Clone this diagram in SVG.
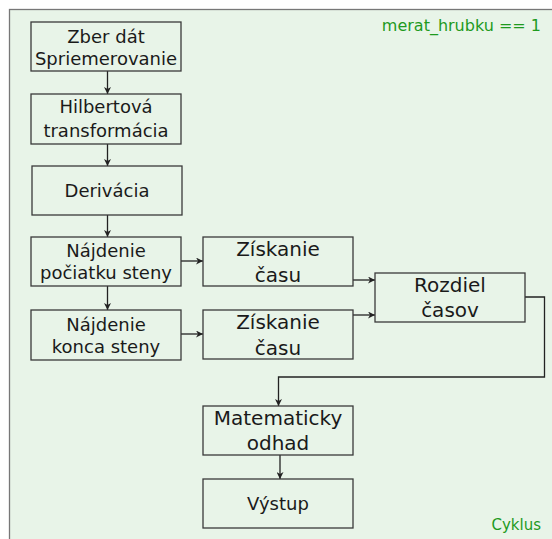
<svg xmlns="http://www.w3.org/2000/svg" width="552" height="539" viewBox="0 0 552 539">
<style>
.box{fill:#e8f4e8;stroke:#3a3a3a;stroke-width:1.3}
.t{font-family:"DejaVu Sans",sans-serif;font-size:18px;fill:#1a1a1a;text-anchor:middle}
.tl{font-size:20px}
.g{font-family:"DejaVu Sans",sans-serif;fill:#1e9a1e}
.c{fill:none;stroke:#222;stroke-width:1.3;marker-end:url(#ah)}
</style>
<defs>
<marker id="ah" viewBox="0 0 10 10" refX="10" refY="5" markerWidth="8" markerHeight="7" markerUnits="userSpaceOnUse" orient="auto">
<path d="M0,0 L10,5 L0,10 L3,5 Z" fill="#222"/>
</marker>
</defs>
<rect x="0" y="0" width="552" height="539" fill="#ffffff"/>
<rect x="9.5" y="9.5" width="600" height="600" fill="#e8f4e8" stroke="#777" stroke-width="1.3"/>
<text class="g" x="541" y="31" font-size="16" text-anchor="end">merat_hrubku == 1</text>
<text class="g" x="541" y="530" font-size="15" text-anchor="end">Cyklus</text>
<g id="connectors">
<path class="c" d="M107.5,71 V94"/>
<path class="c" d="M107.5,144 V166"/>
<path class="c" d="M107.5,215 V237"/>
<path class="c" d="M107.5,286 V310"/>
<path class="c" d="M181,261 H203"/>
<path class="c" d="M181,334 H203"/>
<path class="c" d="M353,280 H375"/>
<path class="c" d="M353,315 H375"/>
<path class="c" d="M525,297 H544.5 V377 H278.5 V406"/>
<path class="c" d="M280,455 V479"/>
</g>
<g id="n1"><rect class="box" x="31" y="22" width="150" height="49"/><text class="t" x="106" y="43">Zber dát</text><text class="t" x="106" y="65">Spriemerovanie</text></g>
<g id="n2"><rect class="box" x="31" y="94" width="150" height="50"/><text class="t" x="106" y="113">Hilbertová</text><text class="t" x="106" y="136.5">transformácia</text></g>
<g id="n3"><rect class="box" x="32" y="166" width="150" height="49"/><text class="t" x="107" y="196.5">Derivácia</text></g>
<g id="n4"><rect class="box" x="31" y="237" width="150" height="49"/><text class="t" x="106" y="256.5">Nájdenie</text><text class="t" x="106" y="279">počiatku steny</text></g>
<g id="n5"><rect class="box" x="31" y="310" width="150" height="50"/><text class="t" x="106" y="331">Nájdenie</text><text class="t" x="106" y="353">konca steny</text></g>
<g id="n6"><rect class="box" x="203" y="237" width="150" height="49"/><text class="t tl" x="278" y="256">Získanie</text><text class="t tl" x="278" y="281.5">času</text></g>
<g id="n7"><rect class="box" x="203" y="310" width="150" height="49"/><text class="t tl" x="278" y="329">Získanie</text><text class="t tl" x="278" y="355">času</text></g>
<g id="n8"><rect class="box" x="375" y="273" width="150" height="49"/><text class="t tl" x="450" y="291.5">Rozdiel</text><text class="t tl" x="450" y="316.5">časov</text></g>
<g id="n9"><rect class="box" x="203" y="406" width="150" height="49"/><text class="t tl" x="278" y="425">Matematicky</text><text class="t tl" x="278" y="450">odhad</text></g>
<g id="n10"><rect class="box" x="203" y="479" width="150" height="49"/><text class="t" x="278" y="510">Výstup</text></g>
</svg>
